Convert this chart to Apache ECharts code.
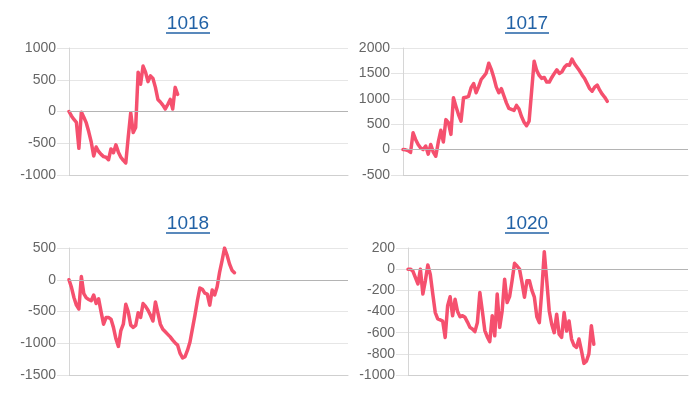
<!DOCTYPE html>
<html>
<head>
<meta charset="utf-8">
<script src="https://cdn.jsdelivr.net/npm/echarts@6/dist/echarts.min.js"></script>
<style>html,body{margin:0;padding:0;background:#fff;}#c{width:700px;height:400px;}</style>
</head>
<body>
<div id="c"></div>
<script>
// ---- data ----
const titles = ['1016', '1017', '1018', '1020'];
const slotCount = 114; // number of x slots in each panel (unlabelled)

const s1016 = [0, -70, -125, -170, -580, -10, -90, -180, -320, -480, -700, -560, -630, -675, -710, -720, -760, -590, -650, -525, -640, -720, -770, -810, -400, -20, -330, -250, 620, 430, 715, 620, 470, 560, 520, 380, 190, 150, 100, 40, 110, 190, 40, 380, 270];

const s1017 = [0, -5, -20, -55, 330, 200, 100, 30, 0, 70, -90, 100, -50, -130, 150, 380, 150, 590, 530, 300, 1020, 850, 690, 560, 1020, 1030, 1050, 1220, 1300, 1120, 1240, 1380, 1440, 1510, 1700, 1580, 1420, 1230, 1120, 1200, 1060, 920, 810, 790, 770, 870, 800, 650, 540, 470, 560, 1150, 1740, 1560, 1460, 1400, 1420, 1330, 1330, 1420, 1500, 1570, 1500, 1530, 1620, 1670, 1660, 1780, 1690, 1620, 1550, 1470, 1400, 1300, 1200, 1150, 1230, 1270, 1170, 1090, 1030, 950];

const s1018 = [0, -120, -280, -400, -460, 50, -220, -285, -310, -330, -240, -375, -300, -505, -700, -595, -595, -620, -750, -930, -1050, -800, -700, -385, -505, -715, -750, -720, -520, -595, -375, -420, -480, -560, -650, -350, -520, -700, -780, -820, -860, -900, -950, -995, -1030, -1160, -1230, -1210, -1110, -980, -770, -560, -330, -130, -150, -210, -225, -400, -160, -240, -110, 120, 300, 500, 390, 250, 150, 110];

const s1020 = [0, 0, -20, -80, -140, 0, -235, -110, 40, -50, -235, -410, -470, -480, -490, -645, -345, -260, -440, -285, -400, -450, -440, -455, -500, -550, -565, -590, -505, -220, -395, -580, -640, -685, -440, -630, -235, -550, -395, -95, -315, -260, -110, 55, 30, 0, -125, -265, -110, -110, -200, -265, -450, -505, -205, 165, -110, -395, -520, -600, -425, -615, -645, -410, -585, -490, -660, -720, -740, -660, -770, -890, -870, -800, -535, -710];

const yMins = [-1000, -500, -1500, -1000];
const yMaxs = [1000, 2000, 500, 200];
const yIntervals = [500, 500, 500, 200];

// ---- layout ----
const seriesData = [s1016, s1017, s1018, s1020];
const grids = [
  {left: 69, top: 48, width: 279, height: 127},
  {left: 403, top: 48, width: 285, height: 127},
  {left: 69, top: 248, width: 279, height: 127},
  {left: 408, top: 248, width: 280, height: 127}
];
const titleCenters = [[188, 24], [527, 24], [188, 224], [527, 224]];
const categories = Array.from({length: slotCount}, (_, i) => String(i + 1));

const FONT = '"Liberation Sans", Arial, sans-serif';
const LINE = '#f5506e';
const TITLE = '#2262a6';

const xAxes = [], yAxes = [], series = [], graphics = [];
for (let k = 0; k < 4; k++) {
  xAxes.push({
    type: 'category', gridIndex: k, data: categories, boundaryGap: false,
    axisLine: {show: true, onZero: false, lineStyle: {color: '#cfcfcf', width: 1}},
    axisTick: {show: false}, axisLabel: {show: false}, splitLine: {show: false}
  });
  yAxes.push({
    type: 'value', gridIndex: k, min: yMins[k], max: yMaxs[k], interval: yIntervals[k],
    axisLine: {show: true, lineStyle: {color: '#d6d6d6', width: 1}},
    axisTick: {show: true, length: 12, lineStyle: {color: '#e3e3e3'}},
    axisLabel: {color: '#666', fontSize: 14, fontFamily: FONT, margin: 13,
      formatter: v => String(v)},
    splitLine: {show: true, lineStyle: {color: '#e6e6e6', width: 1}}
  });
  series.push({
    type: 'line', xAxisIndex: k, yAxisIndex: k, data: seriesData[k],
    showSymbol: false, symbol: 'none', smooth: false,
    lineStyle: {color: LINE, width: 3.5, join: 'round', cap: 'round'},
    markLine: {
      silent: true, symbol: 'none', animation: false,
      label: {show: false},
      lineStyle: {color: '#b4b4b4', width: 1, type: 'solid'},
      data: [{yAxis: 0}]
    },
    z: 3
  });
  const [cx, cy] = titleCenters[k];
  graphics.push({
    type: 'text', x: cx, y: cy,
    style: {text: titles[k], fill: TITLE, font: '19px ' + FONT, textAlign: 'center', textVerticalAlign: 'middle'}
  });
  graphics.push({
    type: 'line', shape: {x1: cx - 22, y1: cy + 9, x2: cx + 22, y2: cy + 9},
    style: {stroke: TITLE, lineWidth: 1.5}
  });
}

const chart = echarts.init(document.getElementById('c'), null, {renderer: 'canvas'});
chart.setOption({
  animation: false,
  backgroundColor: '#fff',
  grid: grids,
  xAxis: xAxes,
  yAxis: yAxes,
  series: series,
  graphic: graphics
});
</script>
</body>
</html>
